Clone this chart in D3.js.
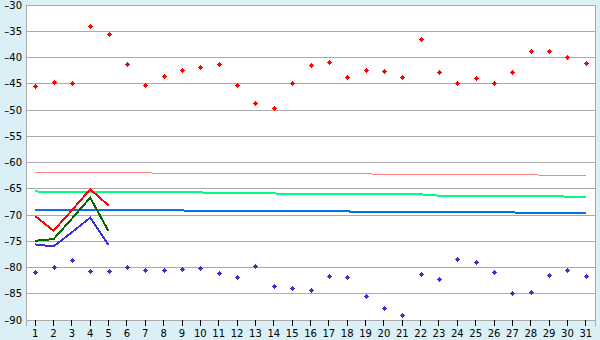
<!DOCTYPE html>
<html>
<head>
<meta charset="utf-8">
<script src="https://cdn.jsdelivr.net/npm/d3@7"></script>
<style>
  body { margin: 0; background: #daeff6; }
  svg { display: block; }
  text { font-family: "DejaVu Sans", Verdana, sans-serif; font-size: 10px; fill: #000; }
</style>
</head>
<body>
<div id="chart"></div>
<script>
const days = [1, 2, 3, 4, 5, 6, 7, 8, 9, 10, 11, 12, 13, 14, 15, 16, 17, 18, 19, 20,
  21, 22, 23, 24, 25, 26, 27, 28, 29, 30, 31];
const yTicks = [-90, -85, -80, -75, -70, -65, -60, -55, -50, -45, -40, -35, -30];

const maxValues = [-45.5, -44.7, -44.9, -34.0, -35.6, -41.3, -45.3, -43.6, -42.3, -41.9,
  -41.3, -45.3, -48.6, -49.7, -44.9, -41.5, -40.9, -43.8, -42.3, -42.5,
  -43.8, -36.5, -42.7, -44.9, -44.0, -44.9, -42.7, -38.8, -38.8, -40.0, -41.1];
const minValues = [-80.8, -79.9, -78.5, -80.6, -80.6, -79.9, -80.4, -80.4, -80.2, -80.1,
  -81.0, -81.8, -79.7, -83.5, -83.9, -84.3, -81.6, -81.8, -85.4, -87.7,
  -89.0, -81.2, -82.2, -78.3, -78.9, -80.8, -84.8, -84.6, -81.4, -80.4, -81.6];

// first five days, thick lines
const redThick = [-70.2, -73.0, -69.1, -65.1, -68.2];
const greenThick = [-74.9, -74.6, -70.7, -66.7, -73.1];
const blueThick = [-75.6, -76.0, -73.3, -70.5, -75.7];

// thin slowly drifting lines
const redThin = [-61.93, -61.93, -61.93, -61.93, -61.93, -61.93, -61.93, -62.12, -62.12, -62.12,
  -62.12, -62.12, -62.12, -62.12, -62.12, -62.12, -62.12, -62.12, -62.12, -62.31,
  -62.31, -62.31, -62.31, -62.31, -62.31, -62.31, -62.31, -62.31, -62.50, -62.50, -62.50];
const greenThin = [-65.50, -65.69, -65.69, -65.69, -65.69, -65.69, -65.69, -65.69, -65.69, -65.69,
  -65.88, -65.88, -65.88, -65.88, -66.07, -66.07, -66.07, -66.07, -66.07, -66.07,
  -66.07, -66.07, -66.32, -66.32, -66.32, -66.32, -66.32, -66.32, -66.32, -66.51, -66.51];
const blueThin = [-69.12, -69.12, -69.12, -69.12, -69.12, -69.12, -69.12, -69.12, -69.12, -69.31,
  -69.31, -69.31, -69.31, -69.31, -69.31, -69.31, -69.31, -69.31, -69.50, -69.50,
  -69.50, -69.50, -69.50, -69.50, -69.50, -69.50, -69.50, -69.69, -69.69, -69.69, -69.69];

const width = 600;
const height = 340;
const margin = {top: 5, right: 5, bottom: 20, left: 26};

const svg = d3.select("#chart")
  .append("svg")
  .attr("width", width)
  .attr("height", height);

const x = d3.scaleBand()
  .domain(days)
  .range([margin.left, width - margin.right])
  .padding(0);

const y = d3.scaleLinear()
  .domain([-90, -30])
  .range([height - margin.bottom, margin.top]);

const cx = d => x(d) + x.bandwidth() / 2;

// plot area
svg.append("rect")
  .attr("x", margin.left)
  .attr("y", margin.top)
  .attr("width", width - margin.right - margin.left)
  .attr("height", y(-90) - y(-30))
  .attr("fill", "#fff");

// grid
svg.append("g")
  .attr("stroke", "#aaa")
  .attr("shape-rendering", "crispEdges")
  .selectAll("line")
  .data(yTicks)
  .join("line")
  .attr("x1", margin.left)
  .attr("x2", width - margin.right)
  .attr("y1", d => y(d))
  .attr("y2", d => y(d));

svg.append("line")
  .attr("x1", width - margin.right)
  .attr("x2", width - margin.right)
  .attr("y1", y(-30))
  .attr("y2", y(-90))
  .attr("stroke", "#aaa")
  .attr("shape-rendering", "crispEdges");

// axes
const fmt = v => v < 0 ? "\u2013" + Math.abs(v) : String(v);

svg.append("g")
  .attr("transform", `translate(${margin.left},0)`)
  .call(d3.axisLeft(y).tickValues(yTicks).tickSize(0).tickPadding(4).tickFormat(fmt))
  .call(g => g.selectAll("text").attr("font-size", null).attr("font-family", null))
  .call(g => g.select(".domain").attr("stroke", "#aaa").attr("shape-rendering", "crispEdges"));

svg.append("g")
  .attr("transform", `translate(0,${y(-90)})`)
  .call(d3.axisBottom(x).tickSize(6).tickPadding(4))
  .call(g => g.selectAll("text").attr("font-size", null).attr("font-family", null))
  .call(g => g.selectAll(".tick line").attr("stroke", "#000").attr("shape-rendering", "crispEdges"))
  .call(g => g.select(".domain").attr("stroke", "#aaa").attr("shape-rendering", "crispEdges"));

// lines
const line = d3.line()
  .x((d, i) => cx(days[i]))
  .y(d => y(d));

const lines = [
  {values: redThin, color: "#ff8080", w: 1},
  {values: greenThin, color: "#00ff80", w: 2},
  {values: blueThin, color: "#0a70e0", w: 2},
  {values: redThick, color: "#ff0000", w: 2},
  {values: greenThick, color: "#006600", w: 2},
  {values: blueThick, color: "#3333cc", w: 2}
];

svg.append("g")
  .selectAll("path")
  .data(lines)
  .join("path")
  .attr("fill", "none")
  .attr("stroke", d => d.color)
  .attr("stroke-width", d => d.w)
  .attr("shape-rendering", "crispEdges")
  .attr("d", d => line(d.values));

// markers: small stepped diamond
const marker = "M-0.5,-2.5h1v1h1v1h1v1h-1v1h-1v1h-1v-1h-1v-1h-1v-1h1v-1h1z";

function drawMarkers(values, color) {
  svg.append("g")
    .attr("fill", color)
    .attr("shape-rendering", "crispEdges")
    .selectAll("path")
    .data(values)
    .join("path")
    .attr("transform", (d, i) => `translate(${Math.round(cx(days[i])) + 0.5},${Math.round(y(d)) + 0.5})`)
    .attr("d", marker);
}

drawMarkers(maxValues, "#ff0000");
drawMarkers(minValues, "#3333cc");
</script>
</body>
</html>
